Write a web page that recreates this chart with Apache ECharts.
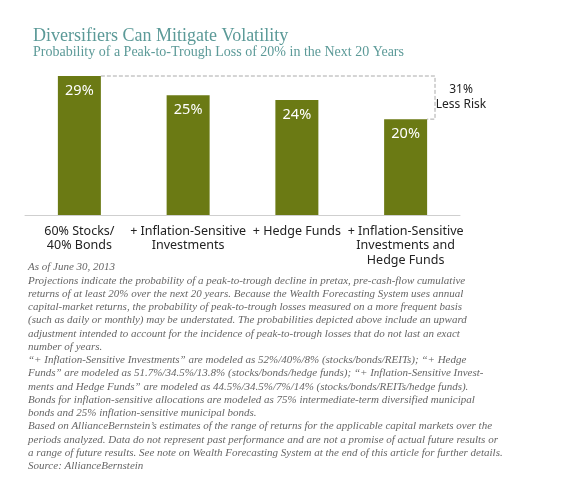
<!DOCTYPE html>
<html><head><meta charset="utf-8">
<script src="https://cdn.jsdelivr.net/npm/echarts@6/dist/echarts.min.js"></script>
<style>html,body{margin:0;padding:0;background:#fff}#c{width:580px;height:501px}</style>
</head><body><div id="c"></div>
<script>
const categories = ['60% Stocks/\n40% Bonds', '+ Inflation-Sensitive\nInvestments', '+ Hedge Funds', '+ Inflation-Sensitive\nInvestments and\nHedge Funds'];
const values = [29, 25, 24, 20];
const notes = [
  'As of June 30, 2013',
  'Projections indicate the probability of a peak-to-trough decline in pretax, pre-cash-flow cumulative',
  'returns of at least 20% over the next 20 years. Because the Wealth Forecasting System uses annual',
  'capital-market returns, the probability of peak-to-trough losses measured on a more frequent basis',
  '(such as daily or monthly) may be understated. The probabilities depicted above include an upward',
  'adjustment intended to account for the incidence of peak-to-trough losses that do not last an exact',
  'number of years.',
  '\u201c+ Inflation-Sensitive Investments\u201d are modeled as 52%/40%/8% (stocks/bonds/REITs); \u201c+ Hedge',
  'Funds\u201d are modeled as 51.7%/34.5%/13.8% (stocks/bonds/hedge funds); \u201c+ Inflation-Sensitive Invest-',
  'ments and Hedge Funds\u201d are modeled as 44.5%/34.5%/7%/14% (stocks/bonds/REITs/hedge funds).',
  'Bonds for inflation-sensitive allocations are modeled as 75% intermediate-term diversified municipal',
  'bonds and 25% inflation-sensitive municipal bonds.',
  'Based on AllianceBernstein\u2019s estimates of the range of returns for the applicable capital markets over the',
  'periods analyzed. Data do not represent past performance and are not a promise of actual future results or',
  'a range of future results. See note on Wealth Forecasting System at the end of this article for further details.',
  'Source: AllianceBernstein'
];

const chart = echarts.init(document.getElementById('c'));
chart.setOption({
  animation: false,
  title: [
    { text: 'Diversifiers Can Mitigate Volatility', left: 28, top: 22, textStyle: { fontFamily: 'Liberation Serif', fontWeight: 'normal', fontSize: 18, color: '#5c9a98' } },
    { text: 'Probability of a Peak-to-Trough Loss of 20% in the Next 20 Years', left: 28, top: 40, textStyle: { fontFamily: 'Liberation Serif', fontWeight: 'normal', fontSize: 14, color: '#5c9a98' } }
  ],
  grid: { left: 25, right: 120, top: 76, bottom: 286 },
  xAxis: {
    type: 'category', data: categories,
    axisLine: { lineStyle: { color: '#cfcfcf' } }, axisTick: { show: false },
    axisLabel: { interval: 0, color: '#222', fontFamily: 'Noto Sans', fontSize: 12.5, lineHeight: 14.5, margin: 9 }
  },
  yAxis: { type: 'value', min: 0, max: 29, show: false, splitLine: { show: false } },
  series: [{
    type: 'bar', data: values, barWidth: 43,
    itemStyle: { color: '#6b7a14' },
    label: { show: true, position: 'insideTop', distance: 7, formatter: '{c}%', color: '#fff', fontFamily: 'Noto Sans', fontSize: 14.5 }
  }]
});

// dashed bracket between first and last bar, positioned from the data
const p0 = chart.convertToPixel({ seriesIndex: 0 }, [0, values[0]]);
const p3 = chart.convertToPixel({ seriesIndex: 0 }, [3, values[3]]);
const bx = 435;
chart.setOption({
  graphic: notes.map((t, i) => ({
    type: 'text', x: 28, y: 262 + i * 13.25,
    style: { text: t, font: 'italic 11px "Liberation Serif"', fill: '#666' }
  })).concat([
    { type: 'polyline', shape: { points: [[p0[0] + 21.5, p0[1]], [bx, p0[1]], [bx, p3[1]], [p3[0] + 21.5, p3[1]]] },
      style: { stroke: '#aaa', lineWidth: 1, lineDash: [4, 2], fill: null } },
    { type: 'text', x: 461, y: (p0[1] + p3[1]) / 2 - 15,
      style: { text: Math.round((1 - values[3] / values[0]) * 100) + '%\nLess Risk', font: '12px "Noto Sans"', fill: '#222', align: 'center', lineHeight: 15 } }
  ])
});
</script></body></html>
